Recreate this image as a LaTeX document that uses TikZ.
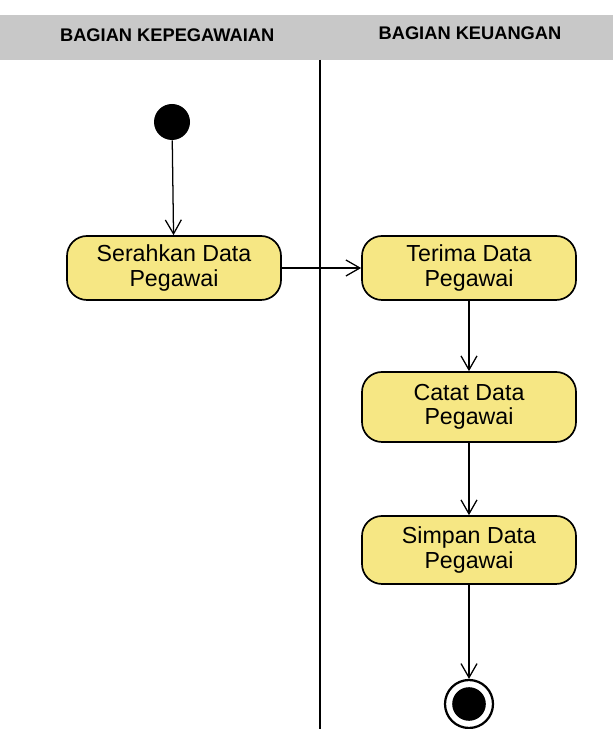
\documentclass[tikz,border=0pt]{standalone}
\usepackage{fontspec}
\setmainfont{Liberation Sans}
\usetikzlibrary{arrows.meta,positioning}

\definecolor{actyellow}{RGB}{246,231,132}
\definecolor{headgray}{RGB}{200,200,200}

\tikzset{
    activity/.style={rectangle, rounded corners=0.5cm, draw, line width=1.2pt, fill=actyellow,
        minimum width=5.35cm, minimum height=1.6cm, align=center,
        font=\fontsize{16.5}{17.5}\selectfont},
    flow/.style={-{Straight Barb[length=3.5mm,width=4mm]}, line width=0.9pt},
    lane/.style={font=\bfseries\fontsize{13}{14}\selectfont}
}

\begin{document}
\begin{tikzpicture}
    \useasboundingbox (0,0) rectangle (15.325,18.225);
    % swimlanes
    \fill[headgray] (0,16.725) rectangle (15.325,17.85);
    \node[lane] (kepeg) at (4.18,17.35) {BAGIAN KEPEGAWAIAN};
    \node[lane] (keu) at (11.75,17.4) {BAGIAN KEUANGAN};
    \draw[line width=0.9pt] (8.0,16.725) -- (8.0,0);

    \node[circle, fill=black, minimum size=0.9cm, inner sep=0] (0) at (4.3,15.175) {};
    \node[activity] (1) at (4.35,11.525) {Serahkan Data\\Pegawai};
    \node[activity] (2) at (11.725,11.525) {Terima Data\\Pegawai};
    \node[activity, minimum height=1.75cm] (3) at (11.725,8.05) {Catat Data\\Pegawai};
    \node[activity, minimum height=1.7cm] (4) at (11.725,4.475) {Simpan Data\\Pegawai};
    \node[circle, draw, line width=1.6pt, minimum size=1.2cm, inner sep=0] (5) at (11.725,0.625) {};
    \fill (5.center) circle (0.42);

    \draw[flow] (0) -- (1);
    \draw[flow] (1) -- (2);
    \draw[flow] (2) -- (3);
    \draw[flow] (3) -- (4);
    \draw[flow] (4) -- (5);
\end{tikzpicture}
\end{document}
